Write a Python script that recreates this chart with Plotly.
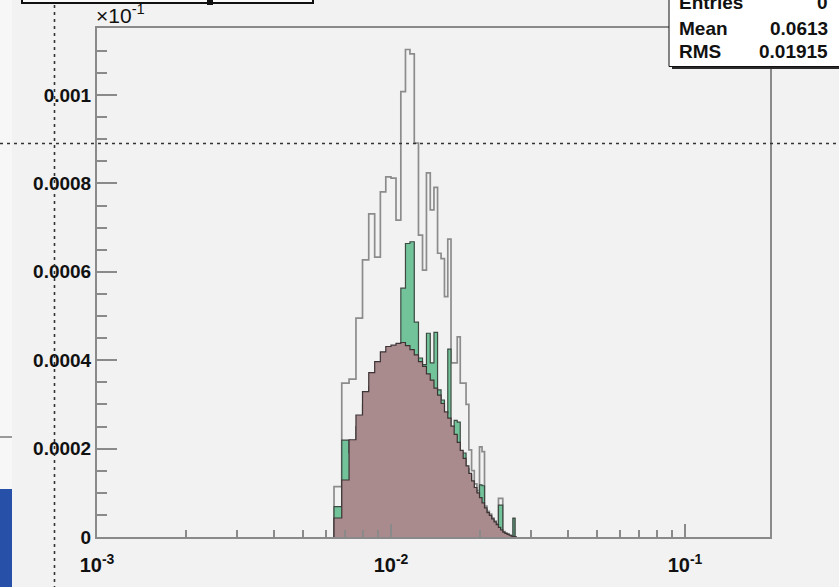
import numpy as np
import plotly.graph_objects as go

# ---- histogram binning (fixed-width bins, drawn on a log x axis) ----
first_edge = 0.0064
bin_width = 0.0004

# observed distribution (outline only)
observed = [
    1.14e-4, 3.48e-4, 3.57e-4, 4.95e-4, 6.27e-4, 7.31e-4, 6.33e-4, 7.81e-4,
    8.15e-4, 8.12e-4, 7.17e-4, 1.0075e-3, 1.103e-3, 1.093e-3, 8.91e-4, 6.83e-4,
    6.04e-4, 8.24e-4, 7.40e-4, 7.91e-4, 6.42e-4, 6.30e-4, 5.44e-4, 6.74e-4,
    3.94e-4, 3.94e-4, 4.53e-4, 3.48e-4, 3.48e-4, 3.00e-4, 1.97e-4, 1.50e-4,
    1.20e-4, 1.05e-4, 2.04e-4, 1.93e-4, 7.0e-5, 5.8e-5, 5.2e-5, 4.3e-5,
    3.6e-5, 3.0e-5, 8.76e-5, 8.76e-5, 1.2e-5, 9e-6, 7e-6, 4e-6,
    2e-6, 4.23e-5, 0.0,
]

# selected subset (green fill)
selected = [
    6.86e-5, 2.19e-4, 1.90e-4, 2.50e-4, 3.00e-4, 3.40e-4, 3.70e-4, 3.90e-4,
    4.00e-4, 4.10e-4, 4.20e-4, 5.63e-4, 6.64e-4, 6.68e-4, 4.86e-4, 4.05e-4,
    3.90e-4, 4.61e-4, 3.94e-4, 4.63e-4, 3.33e-4, 3.10e-4, 2.80e-4, 4.25e-4,
    2.50e-4, 2.64e-4, 2.60e-4, 1.90e-4, 1.90e-4, 1.55e-4, 1.40e-4, 1.20e-4,
    1.05e-4, 9.5e-5, 1.18e-4, 1.16e-4, 6.2e-5, 5.2e-5, 4.6e-5, 3.8e-5,
    3.1e-5, 2.6e-5, 7.2e-5, 7.2e-5, 1.0e-5, 7e-6, 5e-6, 3e-6,
    1e-6, 4.2e-5, 0.0,
]

# expected shape (maroon fill)
expected = [
    4.3e-5, 1.29e-4, 2.20e-4, 2.76e-4, 3.29e-4, 3.72e-4, 3.97e-4, 4.19e-4,
    4.31e-4, 4.34e-4, 4.38e-4, 4.40e-4, 4.33e-4, 4.24e-4, 4.12e-4, 3.97e-4,
    3.86e-4, 3.69e-4, 3.55e-4, 3.37e-4, 3.21e-4, 3.02e-4, 2.83e-4, 2.69e-4,
    2.51e-4, 2.32e-4, 2.14e-4, 1.96e-4, 1.78e-4, 1.61e-4, 1.44e-4, 1.27e-4,
    1.12e-4, 1.00e-4, 8.9e-5, 7.7e-5, 6.6e-5, 5.5e-5, 4.9e-5, 4.1e-5,
    3.4e-5, 2.8e-5, 2.2e-5, 1.6e-5, 1.1e-5, 8e-6, 6e-6, 4e-6,
    2e-6, 1e-6, 0.0,
]

y_tick_values = [0, 0.0002, 0.0004, 0.0006, 0.0008, 0.001]
y_tick_labels = ["0", "0.0002", "0.0004", "0.0006", "0.0008", "0.001"]
x_tick_values = [1e-3, 1e-2, 1e-1]
x_tick_labels = ["10<sup>-3</sup>", "10<sup>-2</sup>", "10<sup>-1</sup>"]

stat_names = ["Entries", "Mean", "RMS"]
stat_values = ["0", "0.0613", "0.01915"]

n_bins = len(observed)
edges = first_edge + bin_width * np.arange(n_bins + 1)


def step_xy(values):
    xs = [edges[0]] + list(edges[:-1]) + [edges[-1]]
    ys = [0.0] + list(values) + [0.0]
    return xs, ys


W, H = 839, 587
L, R, T, B = 97, 770, 28, 537
BG = "#f2f2f2"
FONT = "Liberation Sans, Arial, sans-serif"


def px(x):
    return (x - L) / (R - L)


def py(y):
    return (B - y) / (B - T)


fig = go.Figure()

xs, ys = step_xy(observed)
fig.add_trace(go.Scatter(x=xs, y=ys, mode="lines", line_shape="hv",
                         line=dict(color="#8c8c8c", width=1.7),
                         hoverinfo="skip", showlegend=False))
xs, ys = step_xy(selected)
fig.add_trace(go.Scatter(x=xs, y=ys, mode="lines", line_shape="hv",
                         fill="tozeroy", fillcolor="#72c39a",
                         line=dict(color="#3c4a42", width=1.2),
                         hoverinfo="skip", showlegend=False))
xs, ys = step_xy(expected)
fig.add_trace(go.Scatter(x=xs, y=ys, mode="lines", line_shape="hv",
                         fill="tozeroy", fillcolor="#a98a8d",
                         line=dict(color="#3e3436", width=1.2),
                         hoverinfo="skip", showlegend=False))

# minor tick positions on the log axis: 2..9 x each decade
x_minor = [m * 10.0 ** d for d in (-3, -2, -1) for m in range(2, 10)]

fig.update_xaxes(
    type="log", range=[-3, -0.7109],
    tickmode="array", tickvals=x_tick_values, ticktext=x_tick_labels,
    ticks="inside", ticklen=13, tickwidth=2, tickcolor="#8a8a8a",
    minor=dict(tickmode="array", tickvals=x_minor, ticks="inside",
               ticklen=7, tickwidth=1.5, tickcolor="#8a8a8a", showgrid=False),
    showline=True, linecolor="#8a8a8a", linewidth=2, mirror=True,
    showgrid=False, zeroline=False,
    tickfont=dict(family=FONT, size=20, color="#111", weight="bold"),
    ticklabelstandoff=9,
)
fig.update_yaxes(
    range=[0, 0.0011516],
    tickmode="array", tickvals=y_tick_values, ticktext=y_tick_labels,
    ticks="inside", ticklen=20, tickwidth=2, tickcolor="#8a8a8a",
    minor=dict(dtick=0.00005, ticks="inside", ticklen=10, tickwidth=1.5,
               tickcolor="#8a8a8a", showgrid=False),
    showline=True, linecolor="#8a8a8a", linewidth=2, mirror=True,
    showgrid=False, zeroline=False,
    tickfont=dict(family=FONT, size=19, color="#111", weight="bold"),
    ticklabelstandoff=0,
)

shapes = []
# left edge strip with the blue block
shapes.append(dict(type="rect", xref="paper", yref="paper",
                   x0=px(-2), x1=px(12), y0=py(-2), y1=py(589),
                   fillcolor="#f7f7f7", line=dict(width=0), layer="below"))
shapes.append(dict(type="line", xref="paper", yref="paper",
                   x0=px(0), x1=px(12), y0=py(437), y1=py(437),
                   line=dict(color="#9a9a9a", width=2)))
shapes.append(dict(type="rect", xref="paper", yref="paper",
                   x0=px(-2), x1=px(12), y0=py(489), y1=py(589),
                   fillcolor="#2750a8", line=dict(width=0)))
# crosshair
shapes.append(dict(type="line", xref="paper", yref="paper",
                   x0=px(0), x1=px(839), y0=py(143.5), y1=py(143.5),
                   line=dict(color="#333", width=1.6, dash="3px,4px")))
shapes.append(dict(type="line", xref="paper", yref="paper",
                   x0=px(54.5), x1=px(54.5), y0=py(5), y1=py(587),
                   line=dict(color="#333", width=1.6, dash="3px,4px")))
# title box (cut by the top edge)
shapes.append(dict(type="rect", xref="paper", yref="paper",
                   x0=px(22), x1=px(313), y0=py(-12), y1=py(3),
                   fillcolor="#fbfbfb", line=dict(color="#111", width=2)))
shapes.append(dict(type="rect", xref="paper", yref="paper",
                   x0=px(207), x1=px(213), y0=py(-2), y1=py(5),
                   fillcolor="#111", line=dict(width=0)))
# statistics box with shadow
shapes.append(dict(type="rect", xref="paper", yref="paper",
                   x0=px(672), x1=px(845), y0=py(-6), y1=py(69),
                   fillcolor="#2a2a2a", line=dict(width=0)))
shapes.append(dict(type="rect", xref="paper", yref="paper",
                   x0=px(669), x1=px(842), y0=py(-6), y1=py(66.5),
                   fillcolor="#ffffff", line=dict(color="#111", width=1)))

annotations = []
row_y = [3, 28, 52]
for name, val, yy in zip(stat_names, stat_values, row_y):
    annotations.append(dict(xref="paper", yref="paper", x=px(677), y=py(yy),
                            xanchor="left", yanchor="middle", showarrow=False,
                            text=name,
                            font=dict(family=FONT, size=19, color="#111",
                                      weight="bold")))
    annotations.append(dict(xref="paper", yref="paper", x=px(830), y=py(yy),
                            xanchor="right", yanchor="middle", showarrow=False,
                            text=val,
                            font=dict(family=FONT, size=19, color="#111",
                                      weight="bold")))
annotations.append(dict(xref="paper", yref="paper", x=px(94), y=py(14),
                        xanchor="left", yanchor="middle", showarrow=False,
                        text="\u00d710<sup>-1</sup>",
                        font=dict(family=FONT, size=21, color="#111")))

fig.update_layout(
    width=W, height=H, autosize=False,
    margin=dict(l=L, r=W - R, t=T, b=H - B, pad=0),
    paper_bgcolor=BG, plot_bgcolor=BG,
    shapes=shapes, annotations=annotations,
    showlegend=False,
)

fig.write_html("out.html")
